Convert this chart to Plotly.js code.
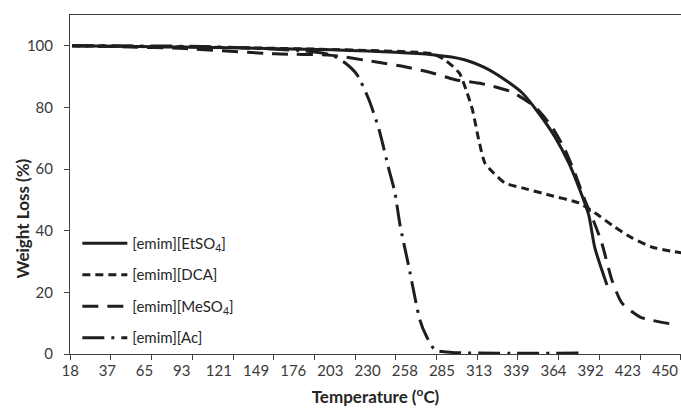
<!DOCTYPE html>
<html>
<head>
<meta charset="utf-8">
<script src="https://cdn.plot.ly/plotly-3.0.1.min.js"></script>
<style>html,body{margin:0;padding:0;background:#fff;}#chart{width:681px;height:408px;}</style>
</head>
<body>
<div id="chart"></div>
<script>
// Category tick labels of the (Excel-style) temperature axis
const tickLabels = [18, 37, 65, 93, 121, 149, 176, 203, 230, 258, 285, 313, 339, 364, 392, 423, 450];

// [emim][EtSO4]
const etso4T = [19, 108, 204, 278, 302, 317, 331, 343, 354, 365, 375.5, 383, 390.6, 395.5, 405.6];
const etso4W = [100, 99.5, 98.7, 97.1, 95.5, 92.9, 89.0, 84.7, 78.2, 70.5, 62.0, 54.2, 45.0, 34.4, 22.4];

// [emim][DCA]
const dcaT = [19, 108, 204, 278, 287, 298, 304, 308, 312.7, 317, 323, 331, 343, 361, 383, 395.5, 412, 426, 440.5, 462];
const dcaW = [100, 99.6, 98.8, 97.4, 95.5, 91.2, 84.7, 79.2, 69.5, 62.0, 58.8, 55.5, 53.9, 51.6, 49.0, 45.8, 41.2, 37.7, 34.7, 32.8];

// [emim][MeSO4]
const meso4T = [19, 48, 95.5, 163, 204, 235.6, 258, 278, 295, 315, 336, 351.5, 363, 372.7, 380, 387.6, 394.7, 401.3, 409.7, 418, 432, 455];
const meso4W = [100, 99.7, 99.1, 97.4, 96.9, 94.8, 93.2, 91.2, 89.0, 87.7, 85.0, 80.2, 73.7, 66.2, 58.8, 50.0, 42.9, 36.0, 24.0, 16.6, 12.0, 9.7];

// [emim][Ac]
const acT = [19, 108, 182.5, 204, 213.5, 222.4, 231, 238.7, 246, 250.6, 254.4, 261, 269, 274, 280, 292.5, 383];
const acW = [100, 99.8, 98.4, 97.0, 94.5, 90.6, 82.5, 72.7, 60.0, 52.3, 41.9, 28.2, 11.0, 5.5, 1.3, 0.5, 0.3];

// map a temperature onto the category-label position (piecewise linear)
function pos(t) {
  const L = tickLabels;
  if (t <= L[0]) return (t - L[0]) / (L[1] - L[0]);
  for (let i = 0; i < L.length - 1; i++) {
    if (t <= L[i + 1]) return i + (t - L[i]) / (L[i + 1] - L[i]);
  }
  const n = L.length - 1;
  return n + (t - L[n]) / (L[n] - L[n - 1]);
}

const col = '#1e1e1e';
const mk = (T, W, name, dash) => ({
  x: T.map(pos), y: W, name: name, type: 'scatter', mode: 'lines',
  line: {color: col, width: 3, dash: dash, shape: 'spline', smoothing: 0.6},
  legendgroup: name, hoverinfo: 'skip'
});

const traces = [
  mk(etso4T, etso4W, '[emim][EtSO<sub>4</sub>]', 'solid'),
  mk(dcaT, dcaW, '[emim][DCA]', '8px,5px'),
  mk(meso4T, meso4W, '[emim][MeSO<sub>4</sub>]', '16px,9px'),
  mk(acT, acW, '[emim][Ac]', '22px,7px,3px,7px')
];
// invisible trace to carry the tick-mark axis
traces.push({x: [0], y: [0], xaxis: 'x2', mode: 'markers', marker: {opacity: 0}, showlegend: false, hoverinfo: 'skip'});

const xr = [-0.005, 16.43];
const fam = 'Lato, "Open Sans", sans-serif';
const font = {family: fam, size: 15, color: '#3a3a3a'};

const layout = {
  width: 681, height: 408,
  margin: {l: 70, r: 0, t: 15, b: 54},
  paper_bgcolor: '#fff', plot_bgcolor: '#fff',
  font: font,
  showlegend: true,
  legend: {x: 0.012, y: 0.375, xanchor: 'left', yanchor: 'top', bgcolor: 'rgba(0,0,0,0)',
           font: {family: fam, size: 15, color: '#262626'}, itemwidth: 45, tracegroupgap: 9,
           traceorder: 'grouped'},
  xaxis: {
    range: xr, tickmode: 'array', tickvals: tickLabels.map((_, i) => i), ticktext: tickLabels.map(String),
    ticks: '', showgrid: false, zeroline: false, showline: true, mirror: true,
    linecolor: '#404040', linewidth: 1, tickfont: font, ticklabelstandoff: 3,
    title: {text: 'Temperature (<sup>o</sup>C)', font: {family: fam, size: 17, color: '#262626', weight: 'bold'}, standoff: 13}
  },
  xaxis2: {
    range: xr, overlaying: 'x', anchor: 'y', side: 'bottom', tickmode: 'linear', tick0: 0, dtick: 1.095,
    ticks: 'outside', ticklen: 5, tickcolor: '#404040', showticklabels: false, showgrid: false, zeroline: false, showline: false
  },
  yaxis: {
    range: [0, 110], tickmode: 'array', tickvals: [0, 20, 40, 60, 80, 100],
    ticks: 'outside', ticklen: 5, tickcolor: '#404040', showgrid: false, zeroline: false,
    showline: true, linecolor: '#404040', linewidth: 1, tickfont: font, ticklabelstandoff: 8
  },
  annotations: [{
    text: 'Weight Loss (%)', textangle: -90, xref: 'paper', yref: 'paper',
    x: -0.0786, y: 0.40, xanchor: 'center', yanchor: 'middle', showarrow: false,
    font: {family: fam, size: 17, color: '#262626', weight: 'bold'}
  }]
};

Plotly.newPlot('chart', traces, layout, {staticPlot: true, displayModeBar: false});
</script>
</body>
</html>
